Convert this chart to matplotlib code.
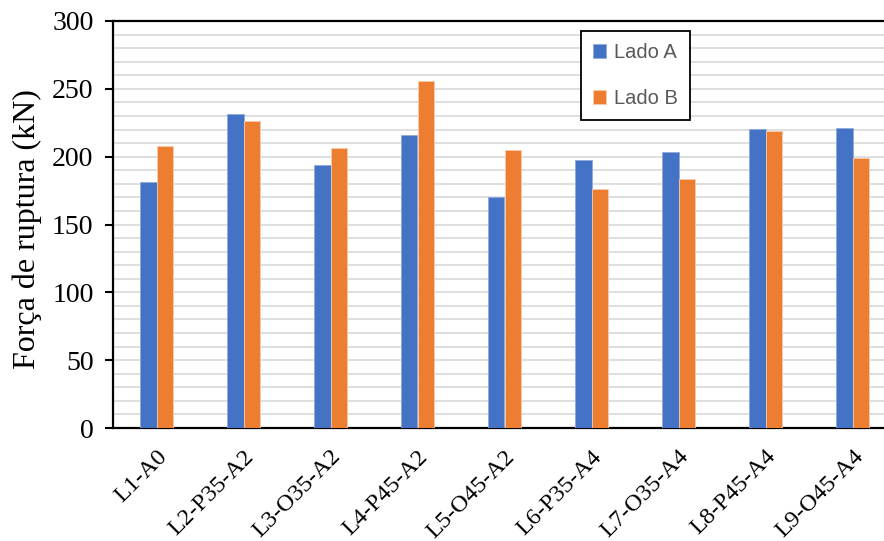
import matplotlib.pyplot as plt
import numpy as np

# ensaios por laje, dois lados
lajes = ['L1-A0', 'L2-P35-A2', 'L3-O35-A2', 'L4-P45-A2', 'L5-O45-A2',
         'L6-P35-A4', 'L7-O35-A4', 'L8-P45-A4', 'L9-O45-A4']
lado_a = [181.4, 231.6, 193.6, 216.2, 170.3, 197.5, 203.7, 220.6, 221.3]
lado_b = [207.9, 226.5, 206.1, 256.1, 204.6, 176.2, 183.8, 219.1, 199.0]

azul = '#4472C4'
laranja = '#ED7D31'
serif = ['Liberation Serif', 'DejaVu Serif']

fig = plt.figure(figsize=(8.84, 5.41), dpi=100)
# o eixo passa um pouco da borda direita, como no original
ax = fig.add_axes([113/884, 113/541, 783/884, 407/541])

x = np.arange(len(lajes))
w = 0.195
ax.bar(x - w/2, lado_a, w, color=azul, edgecolor='#8faadc', linewidth=0.6,
       label='Lado A', zorder=3)
ax.bar(x + w/2, lado_b, w, color=laranja, edgecolor='#f8cbad', linewidth=0.6,
       label='Lado B', zorder=3)

ax.set_xlim(-0.5, len(lajes) - 0.5)
ax.set_ylim(0, 300)
ax.set_yticks(np.arange(0, 301, 50))
ax.set_yticks(np.arange(0, 301, 10), minor=True)
ax.grid(axis='y', which='both', color='#dcdcdc', linewidth=1.3, zorder=0)
ax.set_axisbelow(True)

ax.set_xticks(x)
ax.set_xticklabels(lajes, rotation=45, ha='right', rotation_mode='anchor',
                   family=serif, fontsize=17.5)
for lbl in ax.get_yticklabels():
    lbl.set_family(serif)
ax.tick_params(axis='y', which='major', labelsize=20, length=6, width=1.5, pad=8)
ax.tick_params(axis='y', which='minor', length=0)
ax.tick_params(axis='x', length=0, pad=13)

for s in ['left', 'bottom', 'top']:
    ax.spines[s].set_linewidth(1.6)
    ax.spines[s].set_color('black')
ax.spines['right'].set_visible(False)

ax.set_ylabel('Força de ruptura (kN)', family=serif, fontsize=23)
ax.yaxis.set_label_coords(-0.091, 0.489)

leg = ax.legend(loc='upper left', bbox_to_anchor=(581/884, 1 - 31/541),
                bbox_transform=fig.transFigure, frameon=True, fancybox=False,
                edgecolor='black', framealpha=1,
                prop={'family': 'Liberation Sans', 'size': 14.5},
                handlelength=0.65, handleheight=0.65, handletextpad=0.4,
                labelspacing=1.35, borderpad=0.6, borderaxespad=0)
leg.get_frame().set_linewidth(1.3)
for t in leg.get_texts():
    t.set_color('#595959')

fig.savefig('out.png', dpi=100)
